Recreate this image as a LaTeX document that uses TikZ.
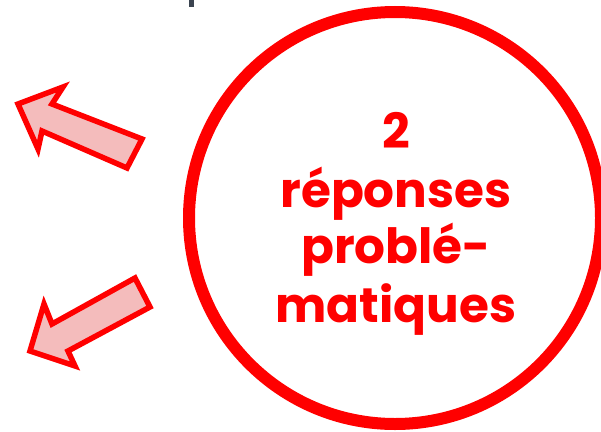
\documentclass[tikz,border=0pt]{standalone}
\usepackage{fontspec}
\setmainfont{Poppins}[BoldFont={Poppins Bold}]
\definecolor{rred}{HTML}{FF0000}
\definecolor{rpink}{HTML}{F4BCBC}
\definecolor{rgrey}{HTML}{3B4450}
\tikzset{
  bigarrow/.style={draw=rred, fill=rpink, line width=5.5pt, line join=miter},
  ringtext/.style={anchor=base, text=rred, font=\bfseries\fontsize{48.5}{58}\selectfont, inner sep=0pt}
}
\begin{document}
\begin{tikzpicture}[x=1pt,y=-1pt]
\useasboundingbox (0,0) rectangle (601,431);
% cropped grey glyph at top edge
\fill[rgrey] (189,0) rectangle (194,7);
% big circle
\draw[rred, line width=12pt] (395,218) circle[radius=206];
% text lines
\node[ringtext] (l1) at (396,148) {2};
\node[ringtext] (l2) at (396,207) {réponses};
\node[ringtext] (l3) at (396,263) {problé-};
\node[ringtext] (l4) at (396,322) {matiques};
% upper arrow
\draw[bigarrow] (18,104) -- (63,87) -- (52,104) -- (142,139) -- (127,168) -- (42,131) -- (38,149) -- cycle;
% lower arrow
\draw[bigarrow] (30,351) -- (44,304) -- (52,324) -- (135,278) -- (150,307) -- (68,351) -- (75,366) -- cycle;
\end{tikzpicture}
\end{document}
